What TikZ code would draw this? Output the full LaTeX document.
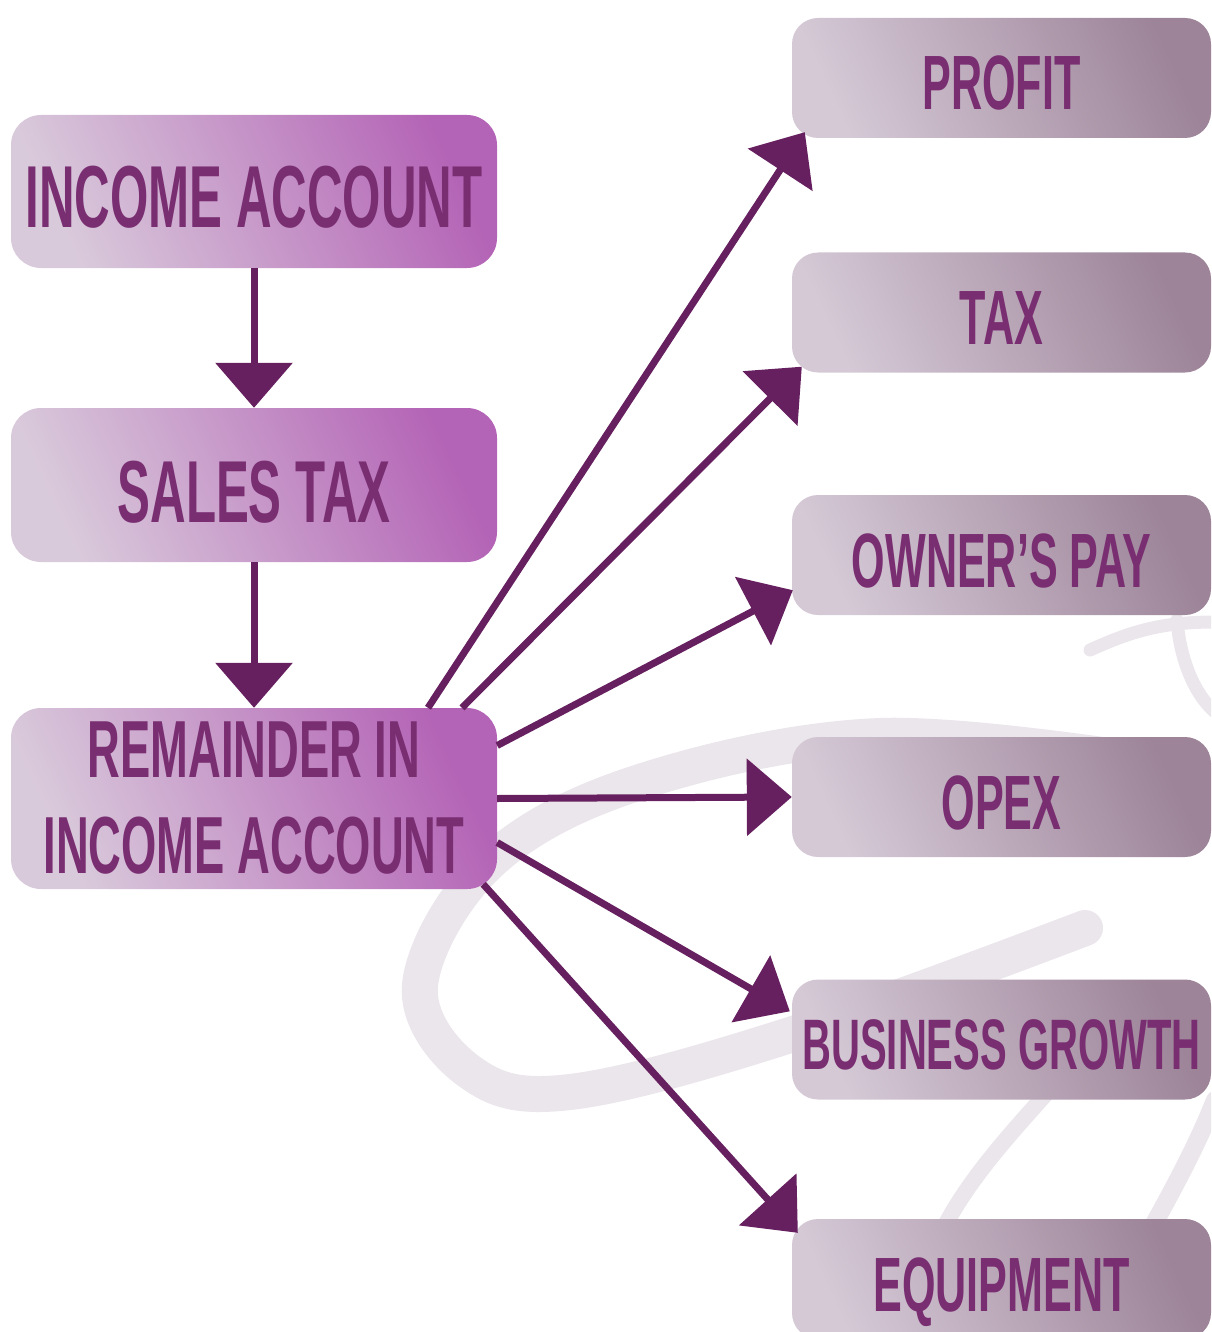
\documentclass[tikz,border=0pt]{standalone}
\usepackage{fontspec}
\setmainfont{Liberation Sans}
\newfontfamily\bebas{Liberation Sans}[FakeStretch=0.56]
\usetikzlibrary{arrows.meta,calc}
\definecolor{arr}{HTML}{66205F}
\definecolor{txt}{HTML}{7A2E72}
\definecolor{lbL}{HTML}{D9CADB}
\definecolor{lbD}{HTML}{B464B6}
\definecolor{rbL}{HTML}{D5C9D6}
\definecolor{rbD}{HTML}{9D8499}
\definecolor{swirlc}{HTML}{EBE6EB}
\tikzset{
  swirl/.style={draw=swirlc, line cap=round},
  lbox/.style={rounded corners=30pt, minimum width=486pt, inner sep=0pt,
    bottom color=lbL, top color=lbD, shading angle=-65, text=txt,
    font=\bebas\bfseries\fontsize{88}{96}\selectfont, align=center},
  rbox/.style={rounded corners=26pt, minimum width=419pt, minimum height=120pt, inner sep=0pt,
    bottom color=rbL, top color=rbD, shading angle=-65, text=txt,
    text height=64pt, text depth=0pt,
    font=\bebas\bfseries\fontsize{77}{84}\selectfont, align=center},
  conn/.style={draw=arr, line width=7pt, -{Triangle[length=45pt,width=76pt]}}
}
\begin{document}
\begin{tikzpicture}[x=1pt,y=-1pt]
\useasboundingbox (0,0) rectangle (1211,1332);
\clip (0,0) rectangle (1211,1332);
% background swirls
\draw[swirl, line width=36pt] plot[smooth, tension=0.6] coordinates {(1150,762) (880,736) (640,782) (490,862) (420,985) (470,1072) (570,1092) (790,1035) (1085,928)};
\draw[swirl, line width=13pt] (1090,650) .. controls (1130,632) and (1160,622) .. (1215,622);
\draw[swirl, line width=13pt] (1177,620) .. controls (1180,660) and (1195,695) .. (1215,712);
\draw[swirl, line width=16pt] (1045,1095) .. controls (1000,1145) and (965,1185) .. (940,1235);
\draw[swirl, line width=18pt] (1215,1100) .. controls (1195,1150) and (1170,1195) .. (1145,1240);
% left boxes
\node[lbox, minimum height=153pt, text height=73pt, text depth=0pt] (inc) at (254,191.5) {INCOME ACCOUNT};
\node[lbox, minimum height=154pt, text height=74pt, text depth=0pt] (sales) at (254,485) {SALES TAX};
\node[lbox, minimum height=181pt, font=\bebas\bfseries\fontsize{81}{96}\selectfont] (rem) at (254,798.5) {REMAINDER IN\\INCOME ACCOUNT};
% right boxes
\node[rbox] (profit) at (1001.5,78) {PROFIT};
\node[rbox] (tax) at (1001.5,312.5) {TAX};
\node[rbox] (owner) at (1001.5,555) {OWNER’S PAY};
\node[rbox] (opex) at (1001.5,797) {OPEX};
\node[rbox, font=\bebas\bfseries\fontsize{71.5}{80}\selectfont, text height=60pt] (bg) at (1001.5,1039.5) {BUSINESS GROWTH};
\node[rbox] (equip) at (1001.5,1279) {EQUIPMENT};
% connectors
\draw[conn] (inc.south) -- (sales.north);
\draw[conn] (sales.south) -- (rem.north);
\draw[conn] ([xshift=174pt]rem.north) -- ([xshift=13pt,yshift=6pt]profit.south west);
\draw[conn] ([xshift=208pt]rem.north) -- ([xshift=10pt,yshift=6pt]tax.south west);
\draw[conn] ([yshift=53pt]rem.east) -- ([xshift=1pt,yshift=25pt]owner.south west);
\draw[conn] (rem.east) -- (opex.west);
\draw[conn] ([yshift=-44pt]rem.east) -- ([xshift=-2pt,yshift=-32pt]bg.north west);
\draw[conn] ([xshift=-14pt,yshift=5pt]rem.south east) -- ([xshift=6pt,yshift=-14pt]equip.north west);
\end{tikzpicture}
\end{document}
